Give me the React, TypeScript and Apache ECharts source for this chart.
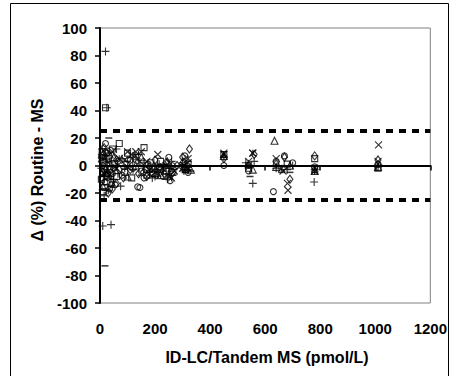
import React, { useEffect, useRef } from "react";
import * as echarts from "echarts";

const xTicks = [0, 200, 400, 600, 800, 1000, 1200];
const yTicks = [-100, -80, -60, -40, -20, 0, 20, 40, 60, 80, 100];
const limits = [25, -25];

const plusPts = [
  [20, 83], [25, 42], [10, -44], [40, -43], [555, -13], [778, -12], [30, -18], [15, -22], [50, -10], [80, 5],
  [120, -3], [160, 2], [200, -8], [250, -6], [300, 2], [320, -3], [450, 6], [530, 2], [560, 3], [640, -2],
  [680, -3], [700, 0], [780, -3], [1010, -1], [10, 5], [60, 12], [90, -2], [140, 8], [180, -5], [230, -4],
  [260, 3], [8, 12], [12, -8], [22, 7], [28, -3], [35, 2], [48, -12], [5, -2], [65, -6], [75, -15],
  [110, 6], [190, -9], [215, 1], [245, -10], [305, -4], [205, -3],
];
const minusPts = [
  [18, -73], [32, 20], [545, -8], [780, -5], [660, -5], [250, -2], [5, 8], [40, -15], [100, 3], [330, -4],
  [690, -5], [1015, 0], [150, -7], [310, -5],
];
const squarePts = [
  [20, 42], [12, -19], [70, 16], [45, 12], [100, 9], [160, 13], [130, 2], [200, -2], [240, -4], [60, -8],
  [30, 5], [780, 5], [540, -2], [1010, -2], [680, 1], [320, 1], [450, 8], [5, -10], [90, -5], [220, 3],
  [170, -7], [25, -12], [15, 2], [8, 10], [35, -3], [52, 1], [18, -16], [115, -9], [185, 2], [265, -5],
  [310, -3],
];
const circlePts = [
  [137, -15.5], [145, -16], [630, -19], [20, 16], [35, -17], [55, -14], [80, -7], [110, 4], [150, -4], [190, -6],
  [250, 6], [255, -11], [300, -1], [450, 0], [540, -4], [640, 3], [670, 7], [700, 2], [780, -1], [1010, 1],
  [10, 0], [45, -6], [65, 3], [120, -2], [175, 1], [230, -8], [320, -5], [220, -3], [5, 6], [18, -12],
  [25, 9], [38, 11], [50, -2], [28, -6], [42, -14], [8, -9], [95, 1], [160, -9], [205, -7], [262, 0],
  [308, 7],
];
const diamondPts = [
  [325, 12], [780, 7], [1010, 4], [670, 6], [20, 10], [40, -5], [60, 4], [85, -9], [110, -3], [140, -6],
  [170, -8], [200, 4], [240, 2], [260, -6], [300, 6], [450, 5], [560, 8], [640, 1], [690, -10], [30, -20],
  [10, -5], [70, -3], [15, 13], [180, -1], [280, 0], [5, 3], [24, -8], [45, -17], [12, 8], [60, -13],
  [125, 5], [165, -3], [235, -6], [315, -1],
];
const trianglePts = [
  [634, 18], [300, 3], [450, 7], [555, -3], [20, -2], [50, 6], [100, -8], [150, 6], [220, -7], [260, -2],
  [330, -3], [780, -4], [1010, -1], [690, 0], [10, -15], [35, 8], [130, 0], [640, -1], [540, 1], [195, 0],
  [245, 3],
];
const crossPts = [
  [1012, 15], [681, -13], [683, -18], [640, 5], [555, 9], [450, 9], [210, 8], [130, 10], [170, 3], [250, -8],
  [320, 2], [540, 3], [780, -2], [30, -8], [60, -2], [90, 4], [100, 10], [150, 10], [200, -5], [20, -4],
  [45, 10], [270, -4], [665, -4], [1010, 3], [315, -2], [115, 8], [180, -6], [230, -1], [305, 0],
];
const starPts = [
  [450, 8], [555, 9], [320, 5], [240, 0], [180, -3], [130, 7], [70, 5], [25, 3], [40, -9], [100, -1],
  [160, -2], [210, -6], [660, -2], [780, -4], [540, 0], [260, -9], [15, -6], [55, -1], [145, 3], [225, -2],
  [300, -2],
];

const FONT = "'Liberation Sans', Arial, sans-serif";

export default function App() {
  const ref = useRef<HTMLDivElement>(null);
  useEffect(() => {
    if (!ref.current) return;
    const chart = echarts.init(ref.current, null, { renderer: "svg" });
    const outline = { color: "transparent", borderColor: "#000", borderWidth: 1.1 };
    const mk = (name: string, data: number[][], symbol: string, size: any, style: any) => ({
      name,
      type: "scatter",
      data,
      symbol,
      symbolSize: size,
      itemStyle: style,
      silent: true,
      xAxisIndex: 0,
      yAxisIndex: 0,
    });
    chart.setOption({
      animation: false,
      grid: {
        left: 100,
        right: 17,
        top: 28,
        bottom: 73,
        show: true,
        borderColor: "#808080",
        borderWidth: 1,
      },
      xAxis: [
        {
          type: "value",
          min: 0,
          max: 1200,
          interval: 200,
          position: "bottom",
          axisLine: { show: true, onZero: true, lineStyle: { color: "#000", width: 2 } },
          axisTick: { show: true, length: 5, lineStyle: { color: "#000", width: 1.5 } },
          axisLabel: { show: false },
          splitLine: { show: false },
          z: 5,
        },
        {
          type: "value",
          min: xTicks[0],
          max: xTicks[xTicks.length - 1],
          interval: 200,
          position: "bottom",
          axisLine: { show: false, onZero: false },
          axisTick: { show: false },
          axisLabel: {
            show: true,
            margin: 18,
            color: "#000",
            fontFamily: FONT,
            fontWeight: "bold",
            fontSize: 15,
            formatter: (v: number) => String(v),
          },
          splitLine: { show: false },
        },
      ],
      yAxis: {
        type: "value",
        min: yTicks[0],
        max: yTicks[yTicks.length - 1],
        interval: 20,
        axisLine: { show: true, onZero: false, lineStyle: { color: "#000", width: 2 } },
        axisTick: { show: true, length: 5, lineStyle: { color: "#000", width: 1.5 } },
        axisLabel: {
          margin: 13,
          color: "#000",
          fontFamily: FONT,
          fontWeight: "bold",
          fontSize: 15,
          formatter: (v: number) => String(v),
        },
        splitLine: { show: false },
        z: 5,
      },
      graphic: [
        {
          type: "rect",
          shape: { x: 10.5, y: 3.5, width: 438, height: 390 },
          style: { fill: "none", stroke: "#000", lineWidth: 1 },
          silent: true,
        },
        {
          type: "text",
          x: 267,
          y: 357,
          style: {
            text: "ID-LC/Tandem MS (pmol/L)",
            fill: "#000",
            font: `bold 16px ${FONT}`,
            align: "center",
            verticalAlign: "middle",
          },
        },
        {
          type: "text",
          x: 37,
          y: 170,
          rotation: Math.PI / 2,
          style: {
            text: "Δ (%) Routine - MS",
            fill: "#000",
            font: `bold 16px ${FONT}`,
            align: "center",
            verticalAlign: "middle",
          },
        },
      ],
      series: [
        {
          ...mk("limits", [], "none", 0, outline),
          markLine: {
            silent: true,
            symbol: "none",
            label: { show: false },
            lineStyle: { color: "#000", width: 4, type: [7, 6] },
            data: limits.map((v) => ({ yAxis: v })),
          },
        },
        mk("diamond", diamondPts, "diamond", [6, 8], outline),
        mk("square", squarePts, "rect", 6, outline),
        mk("triangle", trianglePts, "triangle", 7, outline),
        mk("circle", circlePts, "circle", 6, outline),
        mk("cross", crossPts, "path://M0 0 L10 10 M0 10 L10 0", 7, outline),
        mk("star", starPts, "path://M0 0 L10 10 M0 10 L10 0 M5 0 L5 10", 7, outline),
        mk("plus", plusPts, "path://M0 5 L10 5 M5 0 L5 10", 8, outline),
        mk("minus", minusPts, "path://M0 0 L10 0 L10 1.5 L0 1.5 Z", [7, 1.5], { color: "#000" }),
      ],
    });
    return () => chart.dispose();
  }, []);
  return (
    <div
      ref={ref}
      style={{ position: "fixed", left: 0, top: 0, width: 450, height: 376, background: "#fff" }}
    />
  );
}
